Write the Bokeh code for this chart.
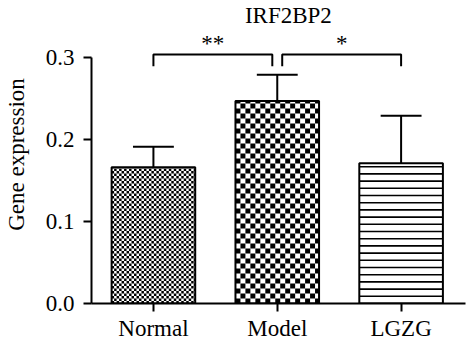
import numpy as np
from bokeh.plotting import figure
from bokeh.models import Range1d, FixedTicker
from bokeh.core.properties import value
from bokeh.embed import file_html
from bokeh.resources import INLINE

# ---- data ----
categories = ["Normal", "Model", "LGZG"]
means = [0.166, 0.247, 0.171]
errors = [0.025, 0.032, 0.058]
y_ticks = [0.0, 0.1, 0.2, 0.3]
comparisons = [(0, 1, "**"), (1, 2, "*")]
title_text = "IRF2BP2"
y_label = "Gene expression"

# ---- styling ----
FONT = "'Liberation Serif', 'Times New Roman', serif"
FS = "23px"
W, H = 468, 345
LEFT, RIGHT, TOP, BOTTOM = 89, 3, 5, 42
x0, x1 = -0.5, 2.52
y0, y1 = 0.0, 0.3634
bar_w = 0.675
cap_w = 0.33

px_x = (W - LEFT - RIGHT) / (x1 - x0)
px_y = (H - TOP - BOTTOM) / (y1 - y0)

p = figure(width=W, height=H, x_range=Range1d(x0, x1), y_range=Range1d(y0, y1),
           output_backend="svg", toolbar_location=None,
           min_border_left=LEFT, min_border_right=RIGHT,
           min_border_top=TOP, min_border_bottom=BOTTOM)
p.outline_line_color = None
p.xgrid.visible = False
p.ygrid.visible = False
p.background_fill_color = "white"

xs = list(range(len(categories)))

# bars base
p.vbar(x=xs, top=means, width=bar_w, bottom=0, fill_color="white", line_color=None)

# patterns
def checker(xc, top, cell_px):
    dx = cell_px / px_x
    dy = cell_px / px_y
    left = xc - bar_w / 2
    right = xc + bar_w / 2
    L, R, B, T = [], [], [], []
    j = 0
    yb = 0.0
    while yb < top:
        yt = min(yb + dy, top)
        i = 0
        xl = left
        while xl < right:
            xr = min(xl + dx, right)
            if (i + j) % 2 == 0:
                L.append(xl); R.append(xr); B.append(yb); T.append(yt)
            xl += dx
            i += 1
        yb += dy
        j += 1
    return L, R, B, T

for idx, cell in [(0, 2.5), (1, 5.0)]:
    L, R, B, T = checker(xs[idx], means[idx], cell)
    p.quad(left=L, right=R, bottom=B, top=T, fill_color="black", line_color=None)

# horizontal lines for third bar
step = 7.2 / px_y
hy = np.arange(step, means[2], step)
p.segment(x0=[xs[2] - bar_w / 2] * len(hy), x1=[xs[2] + bar_w / 2] * len(hy),
          y0=hy, y1=hy, line_color="black", line_width=1.6)

# bar outlines
p.vbar(x=xs, top=means, width=bar_w, bottom=0, fill_color=None,
       line_color="black", line_width=2)

# error bars (upper)
tops = [m + e for m, e in zip(means, errors)]
p.segment(x0=xs, y0=means, x1=xs, y1=tops, line_color="black", line_width=2)
p.segment(x0=[x - cap_w / 2 for x in xs], x1=[x + cap_w / 2 for x in xs],
          y0=tops, y1=tops, line_color="black", line_width=2)

# significance brackets
br_y = 0.3037
leg = 0.0145
gap = 0.04
star_y = 0.3175
bx, by, sx, st = [], [], [], []
for a, b, s in comparisons:
    la = a + (gap if a == 1 else 0)
    rb = b - (gap if b == 1 else 0)
    bx.append([la, la, rb, rb])
    by.append([br_y - leg, br_y, br_y, br_y - leg])
    sx.append((la + rb) / 2)
    st.append(s)
p.multi_line(xs=bx, ys=by, line_color="black", line_width=2)
p.text(x=sx, y=[star_y] * len(sx), text=st, text_font=value(FONT),
       text_font_size=FS, text_align="center", text_baseline="middle",
       text_color="black")

# title
p.text(x=[1.09], y=[0.351], text=[title_text], text_font=value(FONT),
       text_font_size=FS, text_align="center", text_baseline="middle",
       text_color="black")

# axes
xa = p.xaxis[0]
xa.ticker = FixedTicker(ticks=xs)
xa.major_label_overrides = {i: c for i, c in enumerate(categories)}
xa.axis_line_width = 2
xa.major_tick_line_width = 2
xa.major_tick_out = 8
xa.major_tick_in = 0
xa.minor_tick_out = 0
xa.minor_tick_in = 0
xa.major_label_text_font = FONT
xa.major_label_text_font_size = FS
xa.major_label_text_color = "black"
xa.major_label_standoff = 4

ya = p.yaxis[0]
ya.ticker = FixedTicker(ticks=y_ticks)
ya.bounds = (0, 0.3)
ya.formatter.use_scientific = False
ya.major_label_overrides = {t: f"{t:.1f}" for t in y_ticks}
ya.axis_line_width = 2
ya.major_tick_line_width = 2
ya.major_tick_out = 8
ya.major_tick_in = 0
ya.minor_tick_out = 0
ya.minor_tick_in = 0
ya.major_label_text_font = FONT
ya.major_label_text_font_size = FS
ya.major_label_text_color = "black"
ya.major_label_standoff = 9
ya.axis_label = y_label
ya.axis_label_text_font = FONT
ya.axis_label_text_font_size = FS
ya.axis_label_text_font_style = "normal"
ya.axis_label_text_color = "black"
ya.axis_label_standoff = 14

open("out.html", "w").write(file_html(p, INLINE))
